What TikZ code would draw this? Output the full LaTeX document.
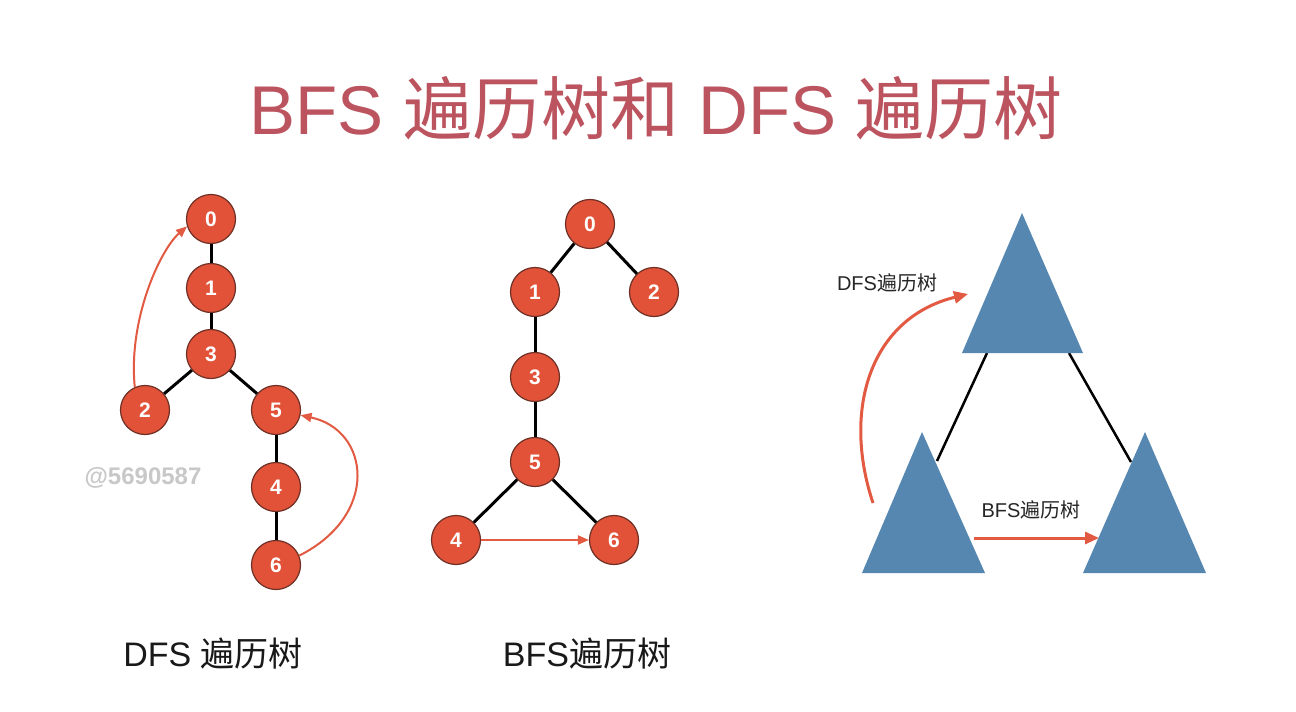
\documentclass[tikz,border=0pt]{standalone}
\usepackage{fontspec}
\setmainfont{Liberation Sans}
\newfontfamily\cjk{Noto Sans CJK SC}
\usetikzlibrary{arrows.meta}
\definecolor{nodefill}{RGB}{226,82,56}
\definecolor{nodeedge}{RGB}{110,48,38}
\definecolor{arrowred}{RGB}{226,90,66}
\definecolor{titlecol}{RGB}{188,84,96}
\definecolor{treeblue}{RGB}{86,135,177}
\definecolor{wmgray}{RGB}{200,200,200}
\tikzset{
  vtx/.style={circle, fill=nodefill, draw=nodeedge, line width=1.2pt,
    minimum size=49pt, inner sep=0pt, text=white,
    font=\fontsize{21}{21}\selectfont\bfseries},
  tedge/.style={line width=3pt, black},
  redarr/.style={draw=arrowred, line width=2pt,
    -{Triangle[length=11pt,width=9pt]}},
  bigarr/.style={draw=arrowred, line width=3pt,
    -{Triangle[length=14pt,width=12pt]}},
  subtree/.style={fill=treeblue, draw=none},
  linkedge/.style={line width=2.5pt, black},
  smalllabel/.style={font=\fontsize{20}{20}\selectfont, text=black!85},
  caption/.style={font=\fontsize{34}{34}\selectfont, text=black!90}
}
\begin{document}
\begin{tikzpicture}[x=1pt,y=1pt]
\useasboundingbox (0,0) rectangle (1296,-712);
\fill[white] (0,0) rectangle (1296,-712);

% title
\node[text=titlecol, font=\fontsize{69}{69}\selectfont] (title) at (656,-108)
  {BFS {\cjk 遍历树和} DFS {\cjk 遍历树}};

% watermark
\node[text=wmgray, font=\fontsize{24}{24}\selectfont\bfseries] (wm) at (143,-478) {@5690587};

% DFS tree
\node[vtx] (d0) at (211,-219) {0};
\node[vtx] (d1) at (211,-288) {1};
\node[vtx] (d3) at (211,-354) {3};
\node[vtx] (d2) at (145,-410) {2};
\node[vtx] (d5) at (276,-410) {5};
\node[vtx] (d4) at (276,-487) {4};
\node[vtx] (d6) at (276,-565) {6};
\draw[tedge] (d0) -- (d1);
\draw[tedge] (d1) -- (d3);
\draw[tedge] (d3) -- (d2);
\draw[tedge] (d3) -- (d5);
\draw[tedge] (d5) -- (d4);
\draw[tedge] (d4) -- (d6);
\draw[redarr] (d2.114) .. controls (128,-320) and (160,-250) .. (d0.197);
\draw[redarr] (d6.22) .. controls (380,-515) and (370,-430) .. (d5.-12);

% BFS tree
\node[vtx] (b0) at (590,-224) {0};
\node[vtx] (b1) at (535,-292) {1};
\node[vtx] (b2) at (654,-292) {2};
\node[vtx] (b3) at (535,-377) {3};
\node[vtx] (b5) at (535,-462) {5};
\node[vtx] (b4) at (456,-540) {4};
\node[vtx] (b6) at (614,-540) {6};
\draw[tedge] (b0) -- (b1);
\draw[tedge] (b0) -- (b2);
\draw[tedge] (b1) -- (b3);
\draw[tedge] (b3) -- (b5);
\draw[tedge] (b5) -- (b4);
\draw[tedge] (b5) -- (b6);
\draw[redarr] (b4) -- (b6);

% captions
\node[caption] (capd) at (213,-654) {DFS {\cjk 遍历树}};
\node[caption] (capb) at (587,-654) {BFS{\cjk 遍历树}};

% subtrees and the links between them
\coordinate (topL) at (987,-353);
\coordinate (topR) at (1069,-353);
\coordinate (leftJ) at (937,-461);
\coordinate (rightJ) at (1131,-462);
\draw[linkedge] (topL) -- (leftJ);
\draw[linkedge] (topR) -- (rightJ);
\fill[subtree] (1022,-213) -- (1083,-353) -- (962,-353) -- cycle;
\fill[subtree] (922,-432) -- (985,-573) -- (862,-573) -- cycle;
\fill[subtree] (1145,-432) -- (1206,-573) -- (1083,-573) -- cycle;

\coordinate (dfsS) at (873,-503);
\coordinate (dfsE) at (968,-294);
\coordinate (bfsS) at (974,-538);
\coordinate (bfsE) at (1099,-538);
\draw[bigarr] (dfsS) .. controls (842,-410) and (870,-318) .. (dfsE);
\draw[bigarr] (bfsS) -- (bfsE);
\node[smalllabel] (ldfs) at (887,-283) {DFS{\cjk 遍历树}};
\node[smalllabel] (lbfs) at (1031,-510) {BFS{\cjk 遍历树}};
\end{tikzpicture}
\end{document}
